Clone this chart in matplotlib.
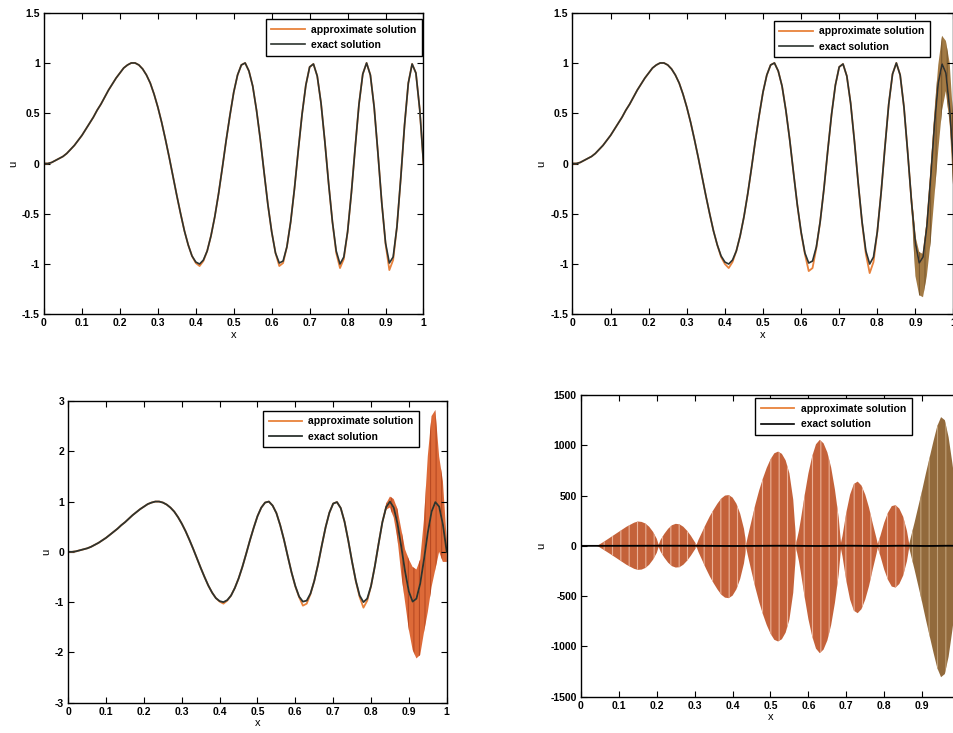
import numpy as np
import matplotlib.pyplot as plt
from matplotlib.lines import Line2D
from matplotlib.ticker import FormatStrFormatter

plt.rcParams['font.family'] = ['Liberation Sans', 'DejaVu Sans']
plt.rcParams['font.weight'] = 'bold'
plt.rcParams['font.size'] = 7.5
plt.rcParams['axes.unicode_minus'] = False
plt.rcParams['hatch.linewidth'] = 0.8

# x grid of the smooth curves
x = np.linspace(0, 1, 101)

# exact solution, read every 0.01
exact = [0.00, 0.00, 0.01, 0.03, 0.05, 0.07, 0.10, 0.14, 0.18, 0.23,
         0.28, 0.34, 0.40, 0.46, 0.53, 0.59, 0.66, 0.73, 0.79, 0.85,
         0.90, 0.95, 0.98, 1.00, 1.00, 0.98, 0.94, 0.88, 0.80, 0.69,
         0.56, 0.41, 0.24, 0.06, -0.13, -0.32, -0.50, -0.67, -0.81, -0.92,
         -0.98, -1.00, -0.96, -0.87, -0.72, -0.53, -0.30, -0.04, 0.23, 0.48,
         0.71, 0.88, 0.98, 1.00, 0.92, 0.77, 0.53, 0.24, -0.09, -0.41,
         -0.68, -0.89, -0.99, -0.97, -0.83, -0.58, -0.25, 0.13, 0.49, 0.78,
         0.96, 0.99, 0.87, 0.60, 0.22, -0.20, -0.58, -0.87, -1.00, -0.93,
         -0.68, -0.29, 0.16, 0.59, 0.89, 1.00, 0.88, 0.56, 0.10, -0.39,
         -0.79, -0.99, -0.93, -0.63, -0.15, 0.38, 0.80, 0.99, 0.90, 0.54,
         0.00]

# approximate solutions (top left, top right, bottom left)
approx_tl = [0.00, 0.00, 0.01, 0.03, 0.05, 0.07, 0.10, 0.14, 0.18, 0.23,
             0.28, 0.34, 0.40, 0.46, 0.53, 0.59, 0.66, 0.73, 0.79, 0.85,
             0.90, 0.95, 0.98, 1.00, 1.00, 0.98, 0.94, 0.88, 0.80, 0.69,
             0.56, 0.41, 0.24, 0.06, -0.13, -0.32, -0.50, -0.67, -0.81, -0.92,
             -0.99, -1.02, -0.97, -0.87, -0.72, -0.53, -0.30, -0.04, 0.23, 0.48,
             0.71, 0.88, 0.98, 1.00, 0.92, 0.77, 0.53, 0.24, -0.09, -0.41,
             -0.68, -0.89, -1.02, -0.99, -0.83, -0.58, -0.25, 0.13, 0.49, 0.78,
             0.96, 0.99, 0.87, 0.60, 0.22, -0.20, -0.58, -0.89, -1.04, -0.95,
             -0.68, -0.29, 0.16, 0.59, 0.89, 1.00, 0.88, 0.56, 0.10, -0.39,
             -0.80, -1.06, -0.96, -0.63, -0.15, 0.38, 0.80, 0.99, 0.90, 0.54,
             0.00]

approx_tr = [0.00, 0.00, 0.01, 0.03, 0.05, 0.07, 0.10, 0.14, 0.18, 0.23,
             0.28, 0.34, 0.40, 0.46, 0.53, 0.59, 0.66, 0.73, 0.79, 0.85,
             0.90, 0.95, 0.98, 1.00, 1.00, 0.98, 0.94, 0.88, 0.80, 0.69,
             0.56, 0.41, 0.24, 0.06, -0.13, -0.32, -0.50, -0.67, -0.81, -0.93,
             -1.00, -1.04, -0.98, -0.87, -0.72, -0.53, -0.30, -0.04, 0.23, 0.48,
             0.71, 0.88, 0.98, 1.00, 0.92, 0.77, 0.53, 0.24, -0.09, -0.41,
             -0.69, -0.90, -1.07, -1.04, -0.84, -0.58, -0.25, 0.13, 0.49, 0.78,
             0.96, 0.99, 0.87, 0.60, 0.22, -0.20, -0.59, -0.90, -1.09, -0.98,
             -0.68, -0.29, 0.16, 0.59, 0.89, 1.00, 0.88, 0.56, 0.10, -0.39,
             -0.79, -0.99, -0.93, -0.63, -0.15, 0.38, 0.80, 0.99, 0.90, 0.54,
             0.00]

approx_bl = [0.00, 0.00, 0.01, 0.03, 0.05, 0.07, 0.10, 0.14, 0.18, 0.23,
             0.28, 0.34, 0.40, 0.46, 0.53, 0.59, 0.66, 0.73, 0.79, 0.85,
             0.90, 0.95, 0.98, 1.00, 1.00, 0.98, 0.94, 0.88, 0.80, 0.69,
             0.56, 0.41, 0.24, 0.06, -0.13, -0.32, -0.50, -0.67, -0.81, -0.92,
             -0.99, -1.03, -0.97, -0.87, -0.72, -0.53, -0.30, -0.04, 0.23, 0.48,
             0.71, 0.88, 0.98, 1.00, 0.92, 0.77, 0.53, 0.24, -0.09, -0.41,
             -0.69, -0.90, -1.07, -1.03, -0.84, -0.58, -0.25, 0.13, 0.49, 0.78,
             0.96, 0.99, 0.87, 0.60, 0.22, -0.20, -0.59, -0.90, -1.11, -0.97,
             -0.68, -0.29, 0.16, 0.59, 0.89, 1.00, 0.88, 0.56, 0.10, -0.39,
             -0.79, -0.99, -0.93, -0.63, -0.15, 0.38, 0.80, 0.99, 0.90, 0.54,
             0.00]

# oscillating part of the approximate solution: upper / lower envelope
band_tr_x = [0.88, 0.89, 0.90, 0.91, 0.92, 0.93, 0.94, 0.95, 0.96, 0.97, 0.98, 0.99, 1.00]
band_tr_hi = [0.12, -0.30, -0.72, -0.88, -0.90, -0.55, -0.05, 0.52, 0.98, 1.27, 1.22, 1.00, 0.40]
band_tr_lo = [0.08, -0.48, -1.12, -1.31, -1.33, -1.12, -0.78, -0.33, 0.13, 0.53, 0.72, 0.40, -0.30]

band_bl_x = [0.83, 0.84, 0.85, 0.86, 0.87, 0.88, 0.89, 0.90, 0.91,
             0.92, 0.93, 0.94, 0.95, 0.96, 0.97, 0.98, 0.99, 1.00]
band_bl_hi = [0.62, 0.96, 1.10, 1.05, 0.85, 0.45, 0.05, -0.15, -0.30,
              -0.35, -0.15, 0.65, 1.90, 2.70, 2.82, 1.90, 1.40, 0.25]
band_bl_lo = [0.56, 0.84, 0.88, 0.68, 0.25, -0.45, -1.00, -1.55, -1.95,
              -2.12, -2.05, -1.60, -1.20, -0.70, -0.35, 0.00, -0.20, -0.20]

br_x = [0.00, 0.04, 0.045, 0.06, 0.08, 0.10, 0.12, 0.14, 0.15, 0.16, 0.17, 0.18, 0.19, 0.20, 0.205,
        0.21, 0.22, 0.23, 0.24, 0.25, 0.26, 0.27, 0.28, 0.29, 0.30, 0.305,
        0.31, 0.32, 0.33, 0.34, 0.35, 0.36, 0.37, 0.38, 0.39, 0.40, 0.41, 0.42, 0.43, 0.436,
        0.44, 0.45, 0.46, 0.47, 0.48, 0.49, 0.50, 0.51, 0.52, 0.53, 0.54, 0.55, 0.56, 0.568,
        0.575, 0.58, 0.59, 0.60, 0.61, 0.62, 0.63, 0.64, 0.65, 0.66, 0.67, 0.68, 0.686,
        0.69, 0.70, 0.71, 0.72, 0.73, 0.74, 0.75, 0.76, 0.77, 0.78, 0.783,
        0.79, 0.80, 0.81, 0.82, 0.83, 0.84, 0.85, 0.86, 0.866,
        0.87, 0.88, 0.89, 0.90, 0.91, 0.92, 0.93, 0.94, 0.95, 0.96, 0.97, 0.98, 0.99, 1.00]
br_hi = [0, 0, 5, 40, 90, 140, 190, 230, 242, 238, 222, 190, 140, 70, 10,
         60, 120, 170, 205, 219, 214, 190, 150, 100, 40, 10,
         60, 140, 220, 295, 360, 420, 470, 500, 505, 480, 420, 320, 170, 20,
         90, 250, 410, 550, 670, 775, 860, 920, 937, 915, 850, 720, 460, 30,
         150, 260, 500, 720, 890, 1010, 1054, 1020, 930, 780, 560, 280, 30,
         100, 330, 510, 615, 639, 600, 510, 380, 220, 70, 20,
         100, 230, 330, 395, 405, 370, 290, 150, 20,
         80, 230, 390, 550, 720, 880, 1040, 1190, 1280, 1250, 1080, 820, 520, 200]
br_lo = [0, 0, -5, -40, -88, -138, -188, -228, -239, -236, -220, -188, -138, -70, -10,
         -58, -118, -168, -202, -216, -212, -188, -148, -98, -40, -10,
         -62, -145, -228, -305, -372, -433, -485, -515, -520, -495, -433, -330, -175, -20,
         -92, -255, -415, -558, -680, -787, -873, -934, -951, -929, -863, -731, -467, -30,
         -152, -263, -506, -729, -900, -1022, -1067, -1032, -941, -789, -567, -283, -30,
         -105, -347, -535, -645, -670, -630, -535, -400, -231, -74, -20,
         -102, -236, -338, -405, -415, -379, -297, -154, -20,
         -82, -235, -398, -561, -734, -898, -1061, -1214, -1306, -1275, -1102, -836, -530, -204]

labels = ['approximate solution', 'exact solution']

c_approx = '#e8823c'
c_exact = '#2c332f'

W, H = 954, 733
fig = plt.figure(figsize=(W / 100, H / 100), dpi=100)


def make_axes(l, r, t, b, ylim, ystep):
    ax = fig.add_axes([l / W, 1 - b / H, (r - l) / W, (b - t) / H])
    ax.set_xlim(0, 1)
    ax.set_ylim(*ylim)
    ax.set_xticks(np.arange(0, 1.01, 0.1))
    ax.set_yticks(np.arange(ylim[0], ylim[1] + ystep / 2, ystep))
    ax.xaxis.set_major_formatter(FormatStrFormatter('%g'))
    ax.yaxis.set_major_formatter(FormatStrFormatter('%g'))
    ax.tick_params(direction='in', top=True, right=True, length=4, width=0.8,
                   pad=3, labelsize=7.5)
    for s in ax.spines.values():
        s.set_linewidth(1.0)
        s.set_color('black')
    ax.set_xlabel('x', fontsize=8, labelpad=1)
    ax.set_ylabel('u', fontsize=8, labelpad=3)
    return ax


def add_legend(ax, handles, right, top):
    ax.legend(handles, labels, loc='upper right',
              bbox_to_anchor=(right / W, 1 - top / H), bbox_transform=fig.transFigure,
              borderaxespad=0, fontsize=7.5, fancybox=False, framealpha=1,
              edgecolor='black', borderpad=0.55, labelspacing=0.5,
              handlelength=3.2, handletextpad=0.6)


# top left
ax = make_axes(44, 423.5, 12.7, 314.3, (-1.5, 1.5), 0.5)
h1, = ax.plot(x, approx_tl, color=c_approx, lw=1.3)
h2, = ax.plot(x, exact, color=c_exact, lw=1.2)
add_legend(ax, [h1, h2], 422, 19)

# top right
ax = make_axes(572.5, 953.5, 12.7, 314.3, (-1.5, 1.5), 0.5)
h1, = ax.plot(x, approx_tr, color=c_approx, lw=1.3)
ax.fill_between(band_tr_x, band_tr_lo, band_tr_hi, facecolor='#a27a44',
                edgecolor='#7a5a30', hatch='|||', linewidth=0)
h2, = ax.plot(x, exact, color=c_exact, lw=1.2)
add_legend(ax, [h1, h2], 930, 20.7)

# bottom left
ax = make_axes(68.3, 446.7, 401, 702.7, (-3, 3), 1)
h1, = ax.plot(x, approx_bl, color=c_approx, lw=1.3)
ax.fill_between(band_bl_x, band_bl_lo, band_bl_hi, facecolor='#dd6a38',
                edgecolor='#b84a22', hatch='|||', linewidth=0)
h2, = ax.plot(x, exact, color=c_exact, lw=1.3)
add_legend(ax, [h1, h2], 419.3, 410.7)

# bottom right
ax = make_axes(581, 960, 395, 696.7, (-1500, 1500), 500)
bx = np.array(br_x)
first = bx <= 0.866
last = bx >= 0.866
ax.fill_between(bx[first], np.array(br_lo)[first], np.array(br_hi)[first],
                facecolor='#c4623a', edgecolor='#eab096', hatch='||', linewidth=0)
ax.fill_between(bx[last], np.array(br_lo)[last], np.array(br_hi)[last],
                facecolor='#926a3c', edgecolor='#c0a078', hatch='||', linewidth=0)
ax.plot(x, exact, color='black', lw=1.3)
h1 = Line2D([], [], color=c_approx, lw=1.3)
h2 = Line2D([], [], color='black', lw=1.2)
add_legend(ax, [h1, h2], 911.7, 398.3)

fig.savefig('out.png', dpi=100)
